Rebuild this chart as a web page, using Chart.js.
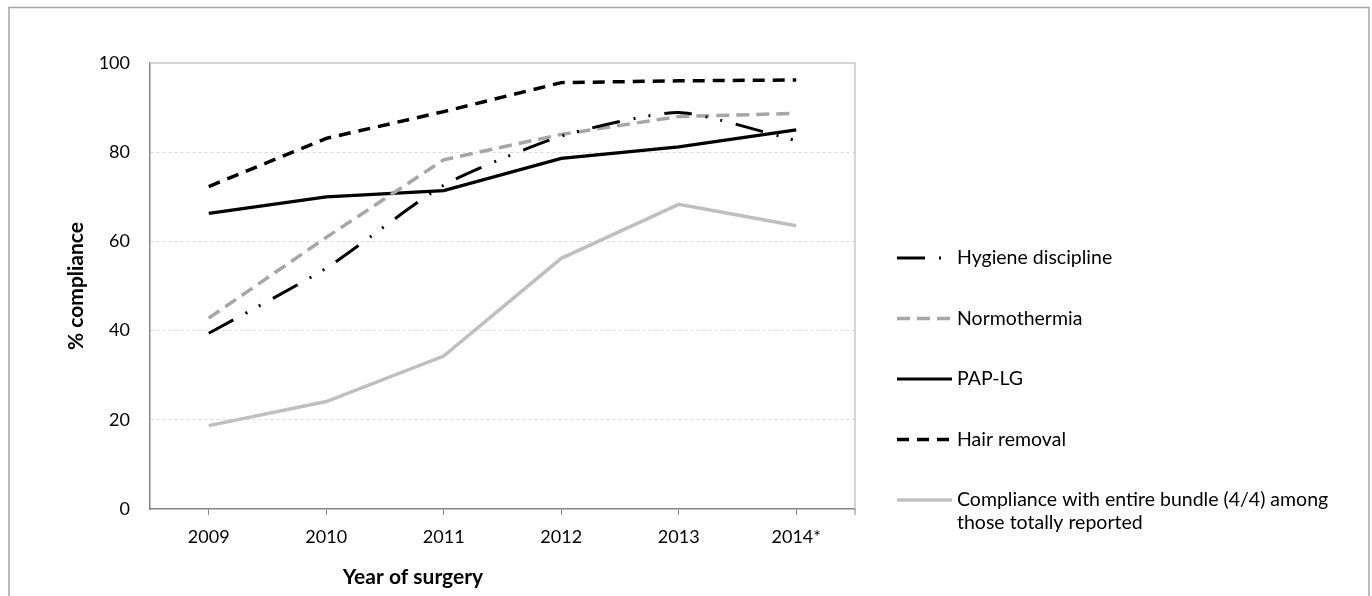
<!DOCTYPE html>
<html>
<head>
<meta charset="utf-8">
<script src="https://cdn.jsdelivr.net/npm/chart.js@4.4.1/dist/chart.umd.min.js"></script>
<style>
  html, body { margin: 0; padding: 0; background: #fff; }
  #wrap { width: 1372px; height: 596px; position: relative; }
</style>
</head>
<body>
<div id="wrap"><canvas id="chart1"></canvas></div>
<script>
// values
const years = ['2009', '2010', '2011', '2012', '2013', '2014*'];
const hygiene = [39.4, 54.0, 72.6, 83.6, 88.9, 82.6];
const normothermia = [42.8, 60.9, 78.3, 84.0, 88.0, 88.7];
const papLg = [66.3, 70.0, 71.4, 78.6, 81.2, 85.0];
const hairRemoval = [72.3, 83.1, 89.1, 95.6, 96.0, 96.2];
const entireBundle = [18.7, 24.1, 34.3, 56.2, 68.3, 63.5];
const yTicks = [0, 20, 40, 60, 80, 100];
const legendLabels = [
    ['Hygiene discipline'],
    ['Normothermia'],
    ['PAP-LG'],
    ['Hair removal'],
    ['Compliance with entire bundle (4/4) among', 'those totally reported']
];
const xTitle = 'Year of surgery';

Chart.defaults.font.family = 'Lato';
Chart.defaults.font.size = 18;
Chart.defaults.color = '#000';

// outer frame, light top/right frame of the plot, x axis title
const frames = {
    id: 'frames',
    beforeDraw(chart) {
        const ctx = chart.ctx;
        ctx.save();
        ctx.strokeStyle = '#a6a6a6';
        ctx.lineWidth = 1.5;
        ctx.strokeRect(9, 7.5, 1360, 620);
        ctx.restore();
    },
    beforeDatasetsDraw(chart) {
        const { ctx, chartArea: a } = chart;
        ctx.save();
        ctx.strokeStyle = '#c8c8c8';
        ctx.lineWidth = 1.5;
        ctx.beginPath();
        ctx.moveTo(a.left, a.top);
        ctx.lineTo(a.right, a.top);
        ctx.lineTo(a.right, a.bottom);
        ctx.stroke();
        ctx.strokeStyle = '#868686';
        ctx.lineWidth = 1;
        ctx.beginPath();
        ctx.moveTo(a.right, a.bottom);
        ctx.lineTo(a.right, a.bottom + 6);
        ctx.stroke();
        ctx.font = 'bold 21px Lato';
        ctx.fillStyle = '#000';
        ctx.textAlign = 'center';
        ctx.textBaseline = 'middle';
        ctx.fillText(xTitle, 413, 577);
        ctx.restore();
    }
};

// legend on the right side
const sideLegend = {
    id: 'sideLegend',
    afterDraw(chart) {
        const ctx = chart.ctx;
        ctx.save();
        ctx.font = '19.5px Lato';
        ctx.fillStyle = '#000';
        ctx.textBaseline = 'middle';
        chart.data.datasets.forEach((ds, i) => {
            const y = 258 + i * 60.5;
            ctx.save();
            ctx.strokeStyle = ds.borderColor;
            ctx.lineWidth = ds.borderWidth;
            ctx.setLineDash(ds.borderDash || []);
            ctx.beginPath();
            ctx.moveTo(897, y);
            ctx.lineTo(952, y);
            ctx.stroke();
            ctx.restore();
            legendLabels[i].forEach((t, j) => {
                ctx.fillText(t, 957, y + j * 23);
            });
        });
        ctx.restore();
    }
};

new Chart(document.getElementById('chart1'), {
    type: 'line',
    data: {
        labels: years,
        datasets: [{
            label: legendLabels[0].join(' '),
            data: hygiene,
            borderColor: '#000',
            borderWidth: 3,
            borderDash: [28, 14, 2, 13, 2, 14],
            tension: 0.2
        }, {
            label: legendLabels[1].join(' '),
            data: normothermia,
            borderColor: '#a6a6a6',
            borderWidth: 3.5,
            borderDash: [13, 7]
        }, {
            label: legendLabels[2].join(' '),
            data: papLg,
            borderColor: '#000',
            borderWidth: 3.2
        }, {
            label: legendLabels[3].join(' '),
            data: hairRemoval,
            borderColor: '#000',
            borderWidth: 3.5,
            borderDash: [12, 8]
        }, {
            label: legendLabels[4].join(' '),
            data: entireBundle,
            borderColor: '#bfbfbf',
            borderWidth: 3.5
        }]
    },
    options: {
        responsive: true,
        maintainAspectRatio: false,
        animation: false,
        layout: { padding: { top: 63, right: 517, bottom: 0, left: 0 } },
        elements: { point: { radius: 0 }, line: { tension: 0 } },
        plugins: {
            legend: { display: false },
            tooltip: { enabled: false }
        },
        scales: {
            x: {
                offset: true,
                grid: {
                    offset: false,
                    drawOnChartArea: false,
                    tickLength: 6,
                    color: '#868686'
                },
                border: { color: '#868686', width: 1.5 },
                ticks: { padding: 11 },
                afterFit(scale) { scale.height = 87; }
            },
            y: {
                min: 0,
                max: 100,
                afterBuildTicks(scale) {
                    scale.ticks = yTicks.map(v => ({ value: v }));
                },
                grid: {
                    drawTicks: false,
                    color: c => (c.tick && (c.tick.value === 0 || c.tick.value === 100)) ? 'rgba(0,0,0,0)' : '#d9d9d9'
                },
                border: { color: '#868686', width: 1.5, dash: [3, 3] },
                ticks: { padding: 20 },
                title: {
                    display: true,
                    text: '% compliance',
                    font: { size: 21, weight: 'bold' },
                    padding: { top: 64, bottom: 0 }
                },
                afterFit(scale) { scale.width = 150; }
            }
        }
    },
    plugins: [frames, sideLegend]
});
</script>
</body>
</html>
